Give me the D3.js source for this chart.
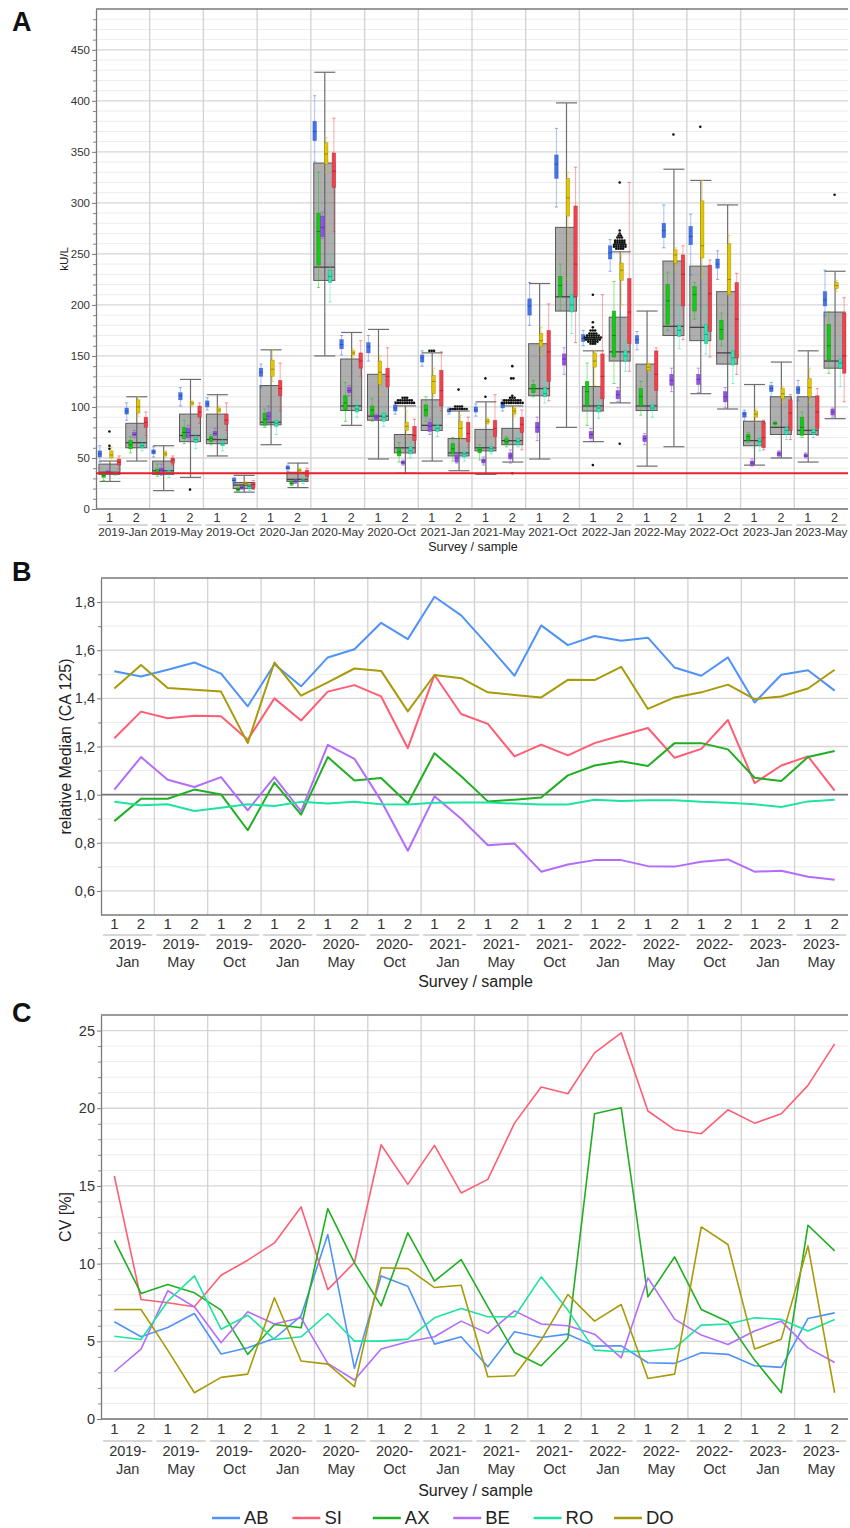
<!DOCTYPE html>
<html>
<head>
<meta charset="utf-8">
<script src="https://cdn.jsdelivr.net/npm/d3@7"></script>
<style>
  body { margin: 0; background: #fff; }
  svg { display: block; font-family: "Liberation Sans", Arial, sans-serif; }
</style>
</head>
<body>
<div id="chart"></div>
<script>
// ---- data ----
const surveys = ["2019-Jan", "2019-May", "2019-Oct", "2020-Jan", "2020-May", "2020-Oct", "2021-Jan",
  "2021-May", "2021-Oct", "2022-Jan", "2022-May", "2022-Oct", "2023-Jan", "2023-May"];
const samples = ["1", "2"];
const labs = ["AB", "SI", "AX", "BE", "RO", "DO"];        // legend order
const boxOrder = ["AB", "AX", "BE", "DO", "RO", "SI"];    // order of small boxes in panel A
const cutoff = 35;

// panel A: all labs together [lo whisker, q1, median, q3, hi whisker]
const allBox = [
  [27, 34, 36, 44, 47], [47, 60, 65, 84, 110], [18, 34, 37.5, 47, 62], [31, 66, 72, 93, 127],
  [52, 64, 68, 93, 112], [16.5, 20, 23.5, 26, 33], [63, 82.5, 85, 121, 156], [21, 27, 29, 36, 45],
  [150, 224, 237, 339, 428], [82, 96.5, 101, 147, 173], [49, 87, 91, 132, 176], [35, 55, 60, 73, 101],
  [47, 77, 82, 107, 153], [37.5, 52, 55, 69, 96], [34, 57, 60, 78, 105], [46, 63, 67, 79, 101],
  [49, 111, 118, 162, 221], [80, 194, 208, 276, 398], [66, 96, 101, 120, 155], [104, 145, 154, 188, 252],
  [42, 96.5, 101, 142, 194], [61, 170, 179, 243, 333], [113, 165, 178, 238, 322], [98, 142, 153, 213, 298],
  [43, 62, 67, 86, 122], [50, 73, 80, 110, 144], [46, 73, 77, 110, 155], [88.5, 138, 145, 193, 233]
];

// panel A: outliers per sample as [value, count]
const outliers = [
  [[59, 1], [62, 1], [76, 1]], [], [], [[19, 1]], [], [], [], [], [], [], [],
  [[104, 9], [106.5, 7], [109, 3]],
  [[155, 3]],
  [[98, 8], [100.5, 4], [117, 1]],
  [[110, 1], [128, 1]],
  [[35, 1], [104, 10], [106.5, 8], [109, 3], [111, 1], [128, 2], [140, 1]],
  [], [],
  [[43, 1], [162, 3], [164, 5], [166, 7], [168, 8], [170, 6], [172, 4], [175, 3], [178, 1], [183, 1], [210, 1]],
  [[64, 1], [255, 4], [257, 6], [259, 6], [261, 5], [263, 5], [266, 3], [268, 2], [270, 1], [273, 1], [320, 1]],
  [], [[367, 1]], [[374.5, 1]], [], [], [], [], [[308, 1]]
];

// panel A: per lab [lo, q1, median, q3, hi]
const boxAB = [[46, 51, 54, 57, 62], [87, 93, 96, 99, 104], [51, 54, 56, 58, 61], [101, 107, 111, 114, 119],
  [97, 100, 103, 106, 109], [25, 27, 28, 30, 31], [119, 130, 134, 138, 142], [37, 39, 40, 42, 43],
  [340, 361, 370, 380, 405], [151, 157, 161, 166, 170], [145, 153, 159, 163, 170], [93, 96, 99, 102, 105],
  [140, 144, 148, 151, 155], [93, 95, 96, 98, 99], [91, 95, 97, 100, 103], [96, 99, 102, 104, 107],
  [180, 190, 199, 206, 222], [296, 324, 338, 347, 373], [160, 164, 167, 171, 175], [233, 245, 251, 258, 264],
  [156, 162, 166, 170, 174], [256, 266, 273, 280, 298], [229, 259, 267, 277, 289], [225, 236, 240, 245, 253],
  [86, 90, 93, 95, 97], [110, 115, 118, 121, 124], [106, 113, 117, 120, 126], [189, 199, 205, 213, 234]];
const boxAX = [[28, 31, 33, 35, 37], [55, 59, 63, 67, 71], [32, 34, 36, 39, 44], [64, 69, 75, 80, 87],
  [63, 66, 69, 71, 73], [17, 18, 19, 20, 21], [80, 82, 88, 94, 98], [23, 24, 25, 27, 28],
  [217, 239, 272, 290, 330], [86, 97, 104, 111, 124], [86, 92, 97, 101, 108], [46, 52, 56, 59, 65],
  [86, 91, 97, 102, 110], [47, 54, 59, 64, 70], [48, 55, 58, 60, 63], [61, 64, 66, 69, 71],
  [110, 114, 118, 122, 126], [195, 208, 219, 228, 240], [82, 101, 115, 125, 143], [123, 149, 170, 194, 223],
  [92, 101, 110, 118, 125], [175, 181, 204, 220, 232], [186, 194, 210, 218, 222], [160, 166, 176, 185, 192],
  [65, 67, 71, 73, 75], [81, 83, 84, 85, 86], [70, 72, 80, 90, 95], [133, 146, 160, 181, 193]];
const boxBE = [[34, 35, 36, 37, 38], [70, 72, 73, 75, 77], [33, 36, 38, 40, 44], [66, 70, 75, 79, 82],
  [69, 72, 74, 76, 79], [19, 20, 21, 22, 22], [84, 87, 91, 95, 101], [25, 26, 27, 28, 29],
  [265, 267, 276, 287, 291], [111, 114, 116, 119, 121], [87, 88, 90, 92, 93], [43, 44, 45.5, 47, 48],
  [73, 76, 81, 85, 88], [45, 46, 50, 53, 55], [43, 45, 47, 49, 51], [45, 49, 52, 55, 58],
  [67, 75, 80, 85, 90], [132, 141, 147, 152, 158], [66, 69, 73, 76, 79], [105, 108, 112, 116, 119],
  [63, 66, 69, 72, 74], [115, 121, 126, 132, 138], [114, 122, 127, 132, 138], [99, 105, 110, 115, 119],
  [42, 43, 45, 47, 49], [51, 52, 54, 56, 57], [50, 51, 52, 54, 55], [90, 92, 95, 98, 99]];
const boxDO = [[47, 50, 53, 57, 61], [91, 94, 100, 107, 110], [51, 52, 54, 56, 57], [101, 102, 104, 105, 106],
  [94, 95, 97, 99, 101], [24, 24.5, 25, 26, 27], [125, 130, 137, 146, 156], [36, 37, 38, 39, 40],
  [330, 338, 348, 359, 364], [148, 151, 153, 155, 157], [112, 122, 134, 145, 150], [71, 77, 81, 85, 96],
  [110, 113, 125, 131, 138], [66, 70, 79, 86, 92], [83, 84, 86, 88, 89], [91, 93, 96, 99, 101],
  [151, 159, 165, 172, 178], [225, 287, 305, 324, 330], [121, 139, 145, 153, 155], [200, 224, 234, 241, 249],
  [134, 136, 139, 142, 143], [236, 241, 249, 254, 256], [227, 246, 258, 302, 322], [210, 210, 225, 260, 268],
  [85, 90, 93, 96, 98], [104, 108, 113, 118, 120], [105, 110, 119, 128, 138], [213, 216, 219, 222, 224]];
const boxRO = [[33, 34, 35, 36, 38], [57, 60, 62, 64, 68], [31, 34, 36, 38, 40], [59, 65, 68, 70, 75],
  [57, 62, 64, 66, 72], [18, 20, 22, 23, 24], [73, 81, 84, 87, 94], [25, 27, 28, 29, 31],
  [203, 222, 228, 234, 250], [90, 95, 98, 101, 106], [81, 86, 90, 94, 99], [50, 54, 57, 61, 65],
  [71, 76, 79, 82, 87], [47, 51, 54, 56, 60], [54, 56, 59, 61, 64], [61, 63, 66, 69, 74],
  [104, 110, 113, 119, 126], [172, 193, 200, 210, 228], [89, 95, 99, 101, 106], [135, 145, 150, 155, 163],
  [90, 97, 99, 102, 106], [157, 169, 175, 180, 199], [152, 162, 171, 181, 199], [123, 141, 148, 155, 168],
  [57, 62, 66, 69, 73], [68, 73, 77, 80, 83], [70, 73, 75, 78, 80], [120, 138, 143, 147, 166]];
const boxSI = [[39, 43, 46, 49, 52], [72, 80, 85, 90, 95], [43, 45, 48, 50, 52], [84, 90, 95, 101, 104],
  [77, 83, 87, 93, 104], [19, 21, 24, 26, 28], [96, 111, 118, 126, 143], [28, 32, 35, 38, 40],
  [272, 315, 331, 349, 383], [130, 138, 145, 153, 165], [119, 120, 130, 138, 158], [55, 67, 72, 81, 88],
  [96, 101, 116, 136, 154], [60, 66, 74, 85, 90], [60, 71, 79, 87, 112], [58, 75, 83, 90, 97],
  [106, 125, 154, 175, 201], [163, 208, 240, 297, 335], [97, 108, 130, 152, 210], [135, 162, 193, 226, 320],
  [102, 116, 132, 155, 158], [166, 199, 230, 249, 258], [149, 174, 211, 239, 244], [132, 148, 186, 222, 231],
  [58, 60, 70, 85, 87], [68, 77, 94, 107, 112], [72, 79, 95, 111, 118], [105, 133, 150, 192, 207]];

// panel B: relative median
const relAB = [1.513, 1.491, 1.519, 1.549, 1.503, 1.367, 1.542, 1.450, 1.570, 1.604, 1.714, 1.646, 1.822, 1.745,
  1.621, 1.494, 1.703, 1.621, 1.659, 1.639, 1.652, 1.528, 1.494, 1.570, 1.383, 1.498, 1.517, 1.432];
const relSI = [1.234, 1.345, 1.317, 1.328, 1.326, 1.228, 1.400, 1.308, 1.428, 1.455, 1.408, 1.193, 1.497, 1.335,
  1.294, 1.159, 1.208, 1.163, 1.214, 1.246, 1.277, 1.153, 1.190, 1.310, 1.048, 1.121, 1.159, 1.017];
const relAX = [0.890, 0.983, 0.983, 1.021, 1.001, 0.852, 1.050, 0.917, 1.156, 1.059, 1.069, 0.963, 1.172, 1.076,
  0.972, 0.979, 0.988, 1.080, 1.121, 1.139, 1.119, 1.214, 1.214, 1.188, 1.070, 1.057, 1.156, 1.181];
const relBE = [1.021, 1.156, 1.062, 1.032, 1.073, 0.935, 1.073, 0.931, 1.207, 1.149, 0.975, 0.767, 0.993, 0.900,
  0.790, 0.797, 0.680, 0.710, 0.728, 0.728, 0.703, 0.701, 0.721, 0.731, 0.680, 0.684, 0.659, 0.646];
const relRO = [0.970, 0.956, 0.960, 0.932, 0.946, 0.960, 0.953, 0.970, 0.963, 0.970, 0.960, 0.959, 0.966, 0.967,
  0.967, 0.963, 0.959, 0.959, 0.979, 0.974, 0.977, 0.977, 0.970, 0.966, 0.960, 0.949, 0.972, 0.979];
const relDO = [1.441, 1.539, 1.443, 1.436, 1.428, 1.214, 1.549, 1.411, 1.466, 1.524, 1.514, 1.346, 1.497, 1.484,
  1.425, 1.414, 1.404, 1.477, 1.476, 1.531, 1.356, 1.404, 1.425, 1.457, 1.397, 1.408, 1.441, 1.519];

// panel C: CV [%]
const cvAB = [6.26, 5.29, 5.89, 6.79, 4.18, 4.58, 5.18, 6.64, 11.87, 3.26, 9.21, 8.55, 4.82, 5.29,
  3.36, 5.61, 5.25, 5.46, 4.69, 4.71, 3.62, 3.58, 4.26, 4.16, 3.43, 3.32, 6.47, 6.83];
const cvSI = [15.64, 7.69, 7.48, 7.22, 9.25, 10.22, 11.33, 13.65, 8.33, 10.07, 17.65, 15.10, 17.61, 14.55,
  15.42, 19.04, 21.36, 20.93, 23.56, 24.85, 19.82, 18.62, 18.36, 19.90, 19.04, 19.64, 21.47, 24.14];
const cvAX = [11.50, 8.08, 8.65, 8.12, 7.01, 4.16, 6.08, 5.87, 13.54, 10.05, 7.28, 11.98, 8.87, 10.26,
  7.22, 4.28, 3.43, 5.18, 19.64, 20.03, 7.86, 10.43, 7.05, 6.26, 3.79, 1.69, 12.47, 10.82];
const cvBE = [3.04, 4.50, 8.25, 7.22, 4.91, 6.90, 6.11, 6.51, 3.58, 2.51, 4.50, 4.97, 5.29, 6.30,
  5.51, 6.96, 6.11, 6.00, 5.46, 3.94, 9.08, 6.43, 5.40, 4.80, 5.66, 6.30, 4.58, 3.64];
const cvRO = [5.33, 5.12, 7.58, 9.21, 5.78, 6.68, 5.12, 5.29, 6.79, 5.01, 5.01, 5.14, 6.51, 7.11,
  6.58, 6.58, 9.15, 7.01, 4.43, 4.33, 4.37, 4.54, 6.04, 6.11, 6.51, 6.41, 5.66, 6.41];
const cvDO = [7.05, 7.05, 4.43, 1.69, 2.68, 2.89, 7.80, 3.73, 3.53, 2.08, 9.73, 9.68, 8.46, 8.61,
  2.72, 2.78, 5.08, 8.01, 6.30, 7.37, 2.61, 2.89, 12.36, 11.23, 4.50, 5.14, 11.14, 1.69];

// ---- styles ----
const lineColor = { AB: "#4f93f7", SI: "#ff5d74", AX: "#1faf22", BE: "#b46cfb", RO: "#1de3a2", DO: "#a89a08" };
const boxColor = { AB: "#4274ea", SI: "#f0414e", AX: "#12cc12", BE: "#9650ec", RO: "#2fe6b6", DO: "#e3c500" };
const boxEdge = { AB: "#2446a8", SI: "#a81c26", AX: "#0a7a0a", BE: "#5c2a9c", RO: "#139070", DO: "#8a7800" };

const boxes = { AB: boxAB, SI: boxSI, AX: boxAX, BE: boxBE, RO: boxRO, DO: boxDO };
const rels = { AB: relAB, SI: relSI, AX: relAX, BE: relBE, RO: relRO, DO: relDO };
const cvs = { AB: cvAB, SI: cvSI, AX: cvAX, BE: cvBE, RO: cvRO, DO: cvDO };

const keys = surveys.flatMap(s => samples.map(n => s + "|" + n));

const svg = d3.select("#chart").append("svg")
  .attr("width", 850)
  .attr("height", 1528);

// panel letters
[["A", 22], ["B", 572], ["C", 1013]].forEach(([t, y]) => {
  svg.append("text").attr("x", 12).attr("y", y).attr("dy", "0.35em")
    .attr("font-size", 27).attr("font-weight", "bold").attr("fill", "#111").text(t);
});

// common frame: grid, survey separators, axes and hierarchical x labels
function frame(o) {
  const g = svg.append("g");
  const [left, right] = o.x.range();
  const [bottom, top] = o.y.range();
  const bw = o.x.bandwidth();

  g.selectAll("line.minor").data(o.minor).enter().append("line")
    .attr("x1", left).attr("x2", right)
    .attr("y1", d => o.y(d)).attr("y2", d => o.y(d))
    .attr("stroke", "#ececec").attr("stroke-width", 1);
  g.selectAll("line.major").data(o.major).enter().append("line")
    .attr("x1", left).attr("x2", right)
    .attr("y1", d => o.y(d)).attr("y2", d => o.y(d))
    .attr("stroke", "#d6d6d6").attr("stroke-width", 1.3);

  // survey separators
  g.selectAll("line.sep").data(surveys.slice(1)).enter().append("line")
    .attr("x1", s => o.x(s + "|1")).attr("x2", s => o.x(s + "|1"))
    .attr("y1", top).attr("y2", bottom)
    .attr("stroke", "#d2d2d2").attr("stroke-width", 1.3);

  // top border and bottom axis line
  g.append("line").attr("x1", left).attr("x2", right).attr("y1", top).attr("y2", top)
    .attr("stroke", "#7a7a7a").attr("stroke-width", 1.3);
  g.append("line").attr("x1", left).attr("x2", right).attr("y1", bottom).attr("y2", bottom)
    .attr("stroke", "#7a7a7a").attr("stroke-width", 1.3);

  // y axis
  const minorAx = g.append("g").attr("transform", `translate(${left},0)`)
    .call(d3.axisLeft(o.y).tickValues(o.minor).tickSize(3).tickFormat(""));
  minorAx.select(".domain").remove();
  minorAx.selectAll("line").attr("stroke", "#888");
  const yAx = g.append("g").attr("transform", `translate(${left},0)`)
    .call(d3.axisLeft(o.y).tickValues(o.major.concat(o.extraTicks || [])).tickSize(4).tickSizeOuter(0)
      .tickPadding(o.pad).tickFormat(o.fmt));
  yAx.select(".domain").attr("stroke", "#7a7a7a").attr("stroke-width", 1.3);
  yAx.selectAll("line").attr("stroke", "#7a7a7a");
  yAx.selectAll("text").attr("font-size", o.tickFont).attr("fill", "#333")
    .attr("font-family", "Liberation Sans, Arial, sans-serif");

  g.append("text")
    .attr("transform", `translate(${o.labelX},${(top + bottom) / 2}) rotate(-90)`)
    .attr("text-anchor", "middle").attr("dy", "0.35em")
    .attr("font-size", o.labelFont).attr("fill", "#222").text(o.label);

  // sample labels
  g.selectAll("text.smp").data(keys).enter().append("text")
    .attr("x", k => o.x(k) + bw / 2).attr("y", o.sampleY).attr("dy", "0.35em")
    .attr("text-anchor", "middle").attr("font-size", o.sampleFont).attr("fill", "#333")
    .text(k => k.split("|")[1]);

  // survey group lines and labels
  g.selectAll("line.grp").data(surveys).enter().append("line")
    .attr("x1", s => o.x(s + "|1") + 2).attr("x2", s => o.x(s + "|2") + bw - 2)
    .attr("y1", o.groupLineY).attr("y2", o.groupLineY)
    .attr("stroke", "#b0b0b0").attr("stroke-width", 1);
  surveys.forEach(s => {
    const cx = o.x(s + "|2");
    const t = g.append("text").attr("text-anchor", "middle")
      .attr("font-size", o.surveyFont).attr("fill", "#333");
    if (o.twoLine) {
      const [yr, mo] = s.split("-");
      t.append("tspan").attr("x", cx).attr("y", o.surveyY).attr("dy", "0.35em").text(yr + "-");
      t.append("tspan").attr("x", cx).attr("y", o.surveyY + o.lineGap).attr("dy", "0.35em").text(mo);
    } else {
      t.attr("x", cx).attr("y", o.surveyY).attr("dy", "0.35em").text(s);
    }
  });
  g.append("text").attr("x", (left + right) / 2 + 1).attr("y", o.titleY).attr("dy", "0.35em")
    .attr("text-anchor", "middle").attr("font-size", o.titleFont).attr("fill", "#222")
    .text("Survey / sample");
  return g;
}

// ---------------- panel A ----------------
const xA = d3.scaleBand().domain(keys).range([96, 848]);
const yA = d3.scaleLinear().domain([0, 490]).range([509, 9]);
frame({
  x: xA, y: yA,
  minor: d3.range(10, 490, 10).filter(v => v % 50 !== 0),
  major: d3.range(0, 451, 50),
  fmt: d3.format("d"), pad: 2, tickFont: 11.5,
  label: "kU/L", labelX: 64, labelFont: 11.5,
  sampleY: 518, sampleFont: 12.5, groupLineY: 525,
  surveyY: 532, surveyFont: 11.8, twoLine: false,
  titleY: 547, titleFont: 12.5
});

const bwA = xA.bandwidth();
const off = d3.scalePoint().domain(boxOrder).range([-9.6, 9.6]);
const gA = svg.append("g");
const cxA = i => xA(keys[i]) + bwA / 2;

// grey overall boxes
const colA = gA.selectAll("g.col").data(allBox).enter().append("g");
colA.append("line")
  .attr("x1", (d, i) => cxA(i) + 0.5).attr("x2", (d, i) => cxA(i) + 0.5)
  .attr("y1", d => yA(d[0])).attr("y2", d => yA(d[4]))
  .attr("stroke", "#6e6e6e").attr("stroke-width", 1.2);
[0, 4].forEach(j => {
  colA.append("line")
    .attr("x1", (d, i) => cxA(i) - 10).attr("x2", (d, i) => cxA(i) + 11)
    .attr("y1", d => yA(d[j])).attr("y2", d => yA(d[j]))
    .attr("stroke", "#6e6e6e").attr("stroke-width", 1.2);
});
colA.append("rect")
  .attr("x", (d, i) => cxA(i) - 10.5).attr("width", 21)
  .attr("y", d => yA(d[3])).attr("height", d => yA(d[1]) - yA(d[3]))
  .attr("fill", "rgb(95,95,95)").attr("fill-opacity", 0.5)
  .attr("stroke", "#5a5a5a").attr("stroke-width", 1);
colA.append("line")
  .attr("x1", (d, i) => cxA(i) - 10.5).attr("x2", (d, i) => cxA(i) + 10.5)
  .attr("y1", d => yA(d[2])).attr("y2", d => yA(d[2]))
  .attr("stroke", "#444").attr("stroke-width", 1.3);

// small lab boxes
boxOrder.forEach(lab => {
  const g = gA.append("g");
  const data = boxes[lab];
  const bx = i => cxA(i) + off(lab);
  g.selectAll("line.w").data(data).enter().append("line")
    .attr("x1", (d, i) => bx(i)).attr("x2", (d, i) => bx(i))
    .attr("y1", d => yA(d[0])).attr("y2", d => yA(d[4]))
    .attr("stroke", boxColor[lab]).attr("stroke-opacity", 0.45).attr("stroke-width", 1);
  [0, 4].forEach(j => {
    g.selectAll("line.c" + j).data(data).enter().append("line")
      .attr("x1", (d, i) => bx(i) - 1.6).attr("x2", (d, i) => bx(i) + 1.6)
      .attr("y1", d => yA(d[j])).attr("y2", d => yA(d[j]))
      .attr("stroke", boxColor[lab]).attr("stroke-opacity", 0.6).attr("stroke-width", 1);
  });
  g.selectAll("rect").data(data).enter().append("rect")
    .attr("x", (d, i) => bx(i) - 1.8).attr("width", 3.6)
    .attr("y", d => yA(d[3])).attr("height", d => Math.max(1.5, yA(d[1]) - yA(d[3])))
    .attr("fill", boxColor[lab]).attr("stroke", boxEdge[lab]).attr("stroke-opacity", 0.5)
    .attr("stroke-width", 0.6);
  g.selectAll("line.m").data(data).enter().append("line")
    .attr("x1", (d, i) => bx(i) - 1.8).attr("x2", (d, i) => bx(i) + 1.8)
    .attr("y1", d => yA(d[2])).attr("y2", d => yA(d[2]))
    .attr("stroke", boxEdge[lab]).attr("stroke-width", 0.8);
});

// outliers
const dots = [];
outliers.forEach((list, i) => {
  list.forEach(([v, n]) => {
    for (let j = 0; j < n; j++) dots.push({ x: cxA(i) + (j - (n - 1) / 2) * 2.3, v });
  });
});
gA.selectAll("circle").data(dots).enter().append("circle")
  .attr("cx", d => d.x).attr("cy", d => yA(d.v)).attr("r", 1.3).attr("fill", "#111");

// cutoff line
gA.append("line").attr("x1", 96).attr("x2", 848)
  .attr("y1", yA(cutoff)).attr("y2", yA(cutoff))
  .attr("stroke", "#e8202c").attr("stroke-width", 2);

// ---------------- panel B ----------------
const commaFmt = d => d3.format(".1f")(d).replace(".", ",");
const xB = d3.scaleBand().domain(keys).range([101, 848]);
const yB = d3.scaleLinear().domain([0.5, 1.9]).range([915, 578]);
frame({
  x: xB, y: yB,
  minor: [0.7, 0.9, 1.1, 1.3, 1.5, 1.7],
  major: [0.6, 0.8, 1.0, 1.2, 1.4, 1.6, 1.8],
  fmt: commaFmt, pad: 2, tickFont: 14.5,
  label: "relative Median (CA 125)", labelX: 65, labelFont: 16,
  sampleY: 924, sampleFont: 15, groupLineY: 935,
  surveyY: 944, lineGap: 18, surveyFont: 14.5, twoLine: true,
  titleY: 981, titleFont: 16
});
const bwB = xB.bandwidth();
svg.append("line").attr("x1", 101).attr("x2", 848)
  .attr("y1", yB(1)).attr("y2", yB(1))
  .attr("stroke", "#777").attr("stroke-width", 1.6);
const lineB = d3.line().x((d, i) => xB(keys[i]) + bwB / 2).y(d => yB(d));
labs.forEach(lab => {
  svg.append("path").attr("d", lineB(rels[lab]))
    .attr("fill", "none").attr("stroke", lineColor[lab]).attr("stroke-width", 2)
    .attr("stroke-linejoin", "round");
});

// ---------------- panel C ----------------
const xC = d3.scaleBand().domain(keys).range([101, 848]);
const yC = d3.scaleLinear().domain([0, 26]).range([1419, 1015]);
frame({
  x: xC, y: yC,
  minor: d3.range(1, 26).filter(v => v % 5 !== 0),
  major: d3.range(0, 26, 5),
  fmt: d3.format("d"), pad: 2, tickFont: 14.5,
  label: "CV [%]", labelX: 65, labelFont: 16,
  sampleY: 1429, sampleFont: 15, groupLineY: 1441,
  surveyY: 1451, lineGap: 18, surveyFont: 14.5, twoLine: true,
  titleY: 1490, titleFont: 16
});
const bwC = xC.bandwidth();
const lineC = d3.line().x((d, i) => xC(keys[i]) + bwC / 2).y(d => yC(d));
labs.forEach(lab => {
  svg.append("path").attr("d", lineC(cvs[lab]))
    .attr("fill", "none").attr("stroke", lineColor[lab]).attr("stroke-width", 1.6)
    .attr("stroke-linejoin", "round");
});

// legend
const legX = d3.scalePoint().domain(labs).range([212, 614]);
const leg = svg.append("g").selectAll("g").data(labs).enter().append("g")
  .attr("transform", d => `translate(${legX(d)},1518)`);
leg.append("line").attr("x1", 0).attr("x2", 28).attr("y1", 0).attr("y2", 0)
  .attr("stroke", d => lineColor[d]).attr("stroke-width", 2.5);
leg.append("text").attr("x", 32).attr("dy", "0.35em").attr("font-size", 18.5)
  .attr("fill", "#222").text(d => d);
</script>
</body>
</html>
